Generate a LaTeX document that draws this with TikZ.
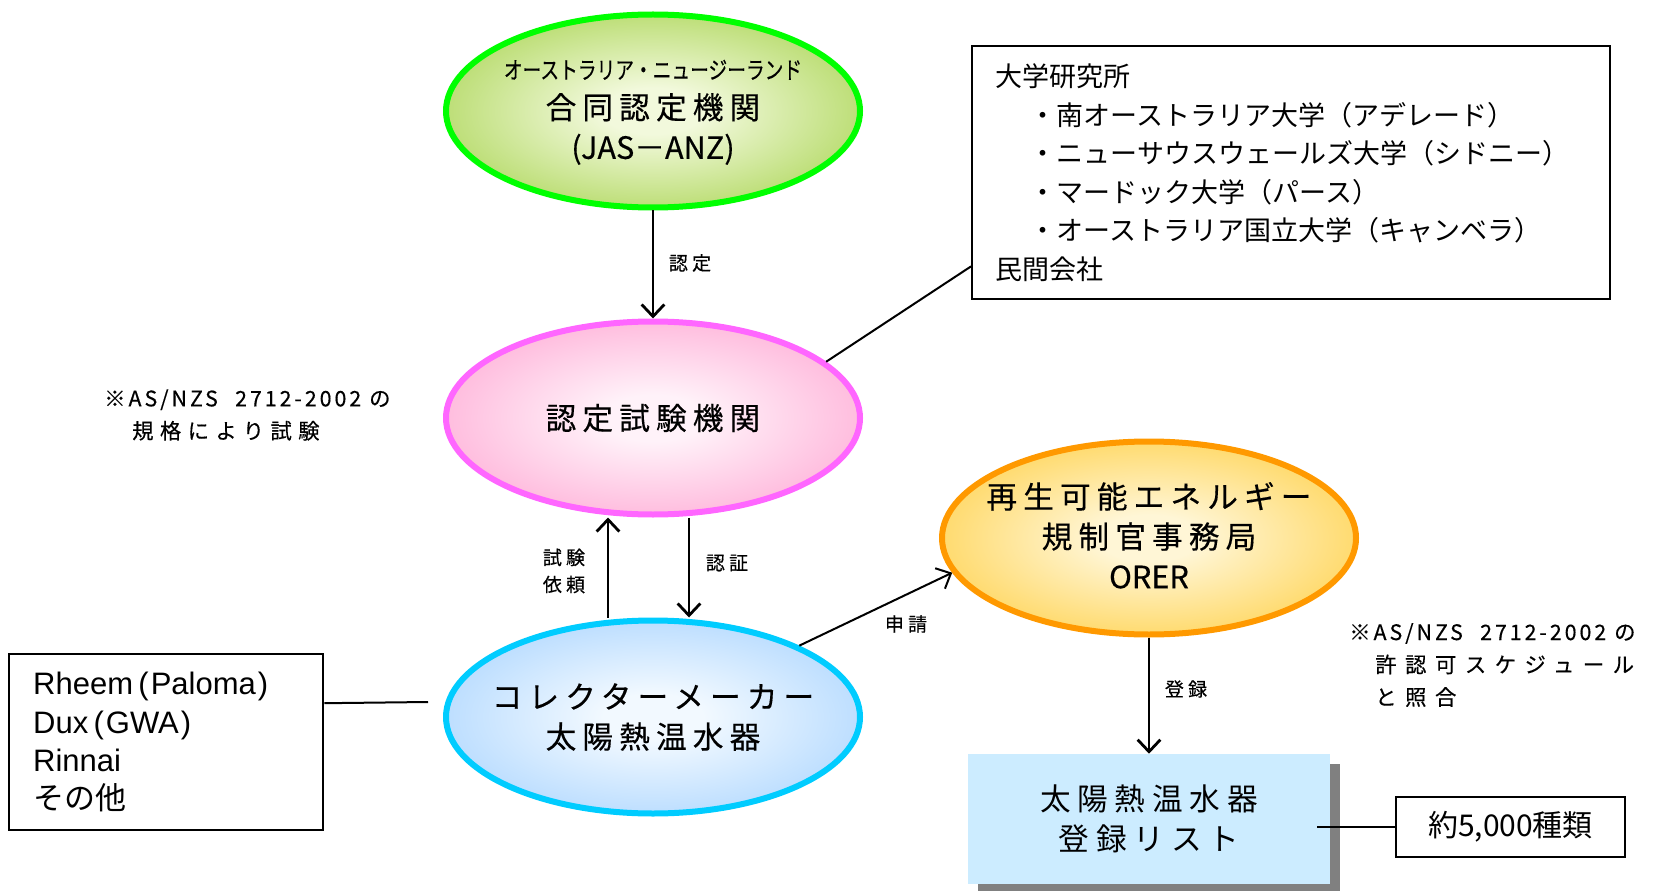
\documentclass[tikz,border=0pt]{standalone}
\usepackage{fontspec}
\setmainfont{Noto Sans CJK JP}
\newfontfamily\jpnarrow[FakeStretch=0.78,FakeBold=0.3]{Noto Sans CJK JP}
\newfontfamily\jpbold[FakeBold=0.4]{Noto Sans CJK JP}
\newfontfamily\latfont{Liberation Sans}
\usetikzlibrary{shapes.geometric,arrows.meta,shadows,calc}

\definecolor{gout}{HTML}{99CC33}
\definecolor{gin}{HTML}{F2F9DC}
\definecolor{gline}{HTML}{00FF00}
\definecolor{pout}{HTML}{FF99CC}
\definecolor{pin}{HTML}{FFF2F9}
\definecolor{pline}{HTML}{FF66FF}
\definecolor{oout}{HTML}{FFC829}
\definecolor{oin}{HTML}{FFF6D6}
\definecolor{oline}{HTML}{FF9900}
\definecolor{bout}{HTML}{99CCFF}
\definecolor{bin}{HTML}{F2F9FF}
\definecolor{bline}{HTML}{00CCFF}
\definecolor{listfill}{HTML}{CCECFF}
\definecolor{shadowgray}{HTML}{808080}

\pgfdeclareradialshading{gshade}{\pgfpoint{0bp}{0bp}}{color(0bp)=(gin); color(6bp)=(gin); color(38bp)=(gout); color(50bp)=(gout)}
\pgfdeclareradialshading{pshade}{\pgfpoint{0bp}{0bp}}{color(0bp)=(pin); color(6bp)=(pin); color(38bp)=(pout); color(50bp)=(pout)}
\pgfdeclareradialshading{oshade}{\pgfpoint{0bp}{0bp}}{color(0bp)=(oin); color(6bp)=(oin); color(38bp)=(oout); color(50bp)=(oout)}
\pgfdeclareradialshading{bshade}{\pgfpoint{0bp}{0bp}}{color(0bp)=(bin); color(6bp)=(bin); color(38bp)=(bout); color(50bp)=(bout)}

\tikzset{
  oval/.style={ellipse, draw, shade, minimum width=310.5pt, minimum height=144.75pt, inner sep=0pt, line width=4.5pt},
  ovaltext/.style={align=center, inner sep=0pt, font=\jpbold\fontsize{23}{30}\selectfont\addfontfeature{LetterSpace=20}},
  arr/.style={line width=2.1pt, -{Straight Barb[length=9pt,width=17pt]}},
  thinline/.style={line width=1.5pt},
  lbl/.style={inner sep=0pt, font=\jpbold\fontsize{14.25}{20.25}\selectfont\addfontfeature{LetterSpace=22}},
  note/.style={inner sep=0pt, align=left, font=\jpbold\fontsize{16}{24.4}\selectfont},
  framebox/.style={draw, line width=1.8pt, fill=white},
}

\begin{document}
\begin{tikzpicture}[x=0.75pt, y=-0.75pt]
\useasboundingbox (0,0) rectangle (1655,891);

% ellipses
\node[oval, draw=gline, shading=gshade, label={[ovaltext, name=greentext, yshift=-1pt]center:{{\jpnarrow\fontsize{18}{30}\selectfont オーストラリア・ニュージーランド}\\合同認定機関\\{\jpbold (JAS－ANZ)}}}] (green) at (653,111) {};
\node[oval, draw=pline, shading=pshade, label={[ovaltext, name=pinktext]center:{認定試験機関}}] (pink) at (653,418) {};
\node[oval, draw=oline, shading=oshade, label={[ovaltext, name=orangetext, yshift=2pt]center:{再生可能エネルギー\\規制官事務局\\{\jpbold ORER}}}] (orange) at (1149,538) {};
\node[oval, draw=bline, shading=bshade, label={[ovaltext, name=bluetext]center:{コレクターメーカー\\太陽熱温水器}}] (blue) at (653,717) {};

% boxes
\node[framebox, anchor=north west, text width=444pt, inner xsep=17.25pt, inner ysep=0pt, minimum height=189.75pt, align=left, font=\fontsize{20.25}{28.9}\selectfont] (univ) at (971,45) {\rule{0pt}{3pt}大学研究所\\\hspace*{26pt}・南オーストラリア大学（アデレード）\\\hspace*{26pt}・ニューサウスウェールズ大学（シドニー）\\\hspace*{26pt}・マードック大学（パース）\\\hspace*{26pt}・オーストラリア国立大学（キャンベラ）\\民間会社};

\node[framebox, anchor=north west, text width=199.5pt, inner xsep=18pt, inner ysep=0pt, minimum height=132pt, align=left, font=\fontsize{23.25}{28.75}\selectfont\latfont] (maker) at (8,653) {Rheem\kern4pt(\kern1.5pt Paloma\kern1.5pt)\\Dux\kern4pt(\kern1.5pt GWA\kern1.5pt)\\Rinnai\\{\rmfamily その他}};

\node[fill=listfill, minimum width=271.5pt, minimum height=97.5pt, inner sep=0pt, align=center, font=\fontsize{23}{30}\selectfont\addfontfeature{LetterSpace=22}, drop shadow={shadow xshift=7.5pt, shadow yshift=-7.5pt, fill=shadowgray, opacity=1}] (list) at (1149,819) {太陽熱温水器\\登録リスト};

\node[framebox, minimum width=171.75pt, minimum height=45pt, inner sep=0pt, font=\fontsize{22.5}{27}\selectfont] (count) at (1510.5,827) {約5,000種類};

% arrows
\draw[arr] (green.south) -- (pink.north);
\draw[arr] ($(blue.north)+(-45,0)$) -- ($(pink.south)+(-45,0)$);
\draw[arr] ($(pink.south)+(36,0)$) -- ($(blue.north)+(36,0)$);
\draw[arr, line width=1.5pt] (blue.26) -- (orange.190);
\draw[arr] (orange.south) -- (list.north);

% plain lines
\draw[thinline] (pink.18) -- ($(univ.south west)+(0,-34)$);
\coordinate (makerend) at (428,702);
\draw[thinline] ($(maker.east)+(0,-39)$) -- (makerend);
\coordinate (liststub) at ($(list.east)+(-13,0)$);
\draw[thinline] (liststub |- count.west) -- (count.west);

% edge labels
\node[lbl] (lbninntei) at (690,263) {認定};
\node[lbl, align=center, font=\jpbold\fontsize{14.25}{20.25}\selectfont\addfontfeature{LetterSpace=22}] (lbshiken) at (564,571) {試験\\依頼};
\node[lbl] (lbninsho) at (727,563) {認証};
\node[lbl] (lbshinsei) at (906,624) {申請};
\node[lbl] (lbtouroku) at (1186,689) {登録};

% notes
\node[note, anchor=west] (note1) at (104,415) {{\addfontfeature{LetterSpace=14}※AS/NZS\hspace{13pt}2712-2002\hspace{6pt}の}\\\hspace*{21pt}{\addfontfeature{LetterSpace=30}規格により試験}};
\node[note, anchor=west] (note2) at (1349,665) {{\addfontfeature{LetterSpace=14}※AS/NZS\hspace{13pt}2712-2002\hspace{6pt}の}\\\hspace*{19.5pt}{\addfontfeature{LetterSpace=40}許認可スケジュール}\\\hspace*{19.5pt}{\addfontfeature{LetterSpace=40}と照合}};
\end{tikzpicture}
\end{document}
